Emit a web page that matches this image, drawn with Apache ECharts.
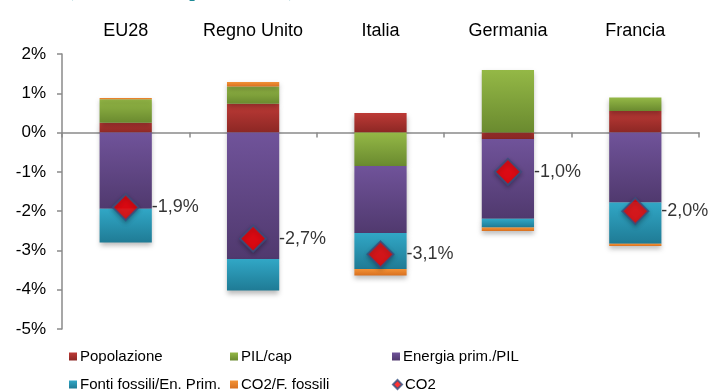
<!DOCTYPE html>
<html>
<head>
<meta charset="utf-8">
<script src="https://cdn.jsdelivr.net/npm/echarts@6/dist/echarts.min.js"></script>
<style>
  html, body { margin: 0; padding: 0; background: #ffffff; }
  #chart { width: 713px; height: 392px; }
</style>
</head>
<body>
<div id="chart"></div>
<script>
// Decomposition of CO2 change by driver (percentage points)
const categories = ['EU28', 'Regno Unito', 'Italia', 'Germania', 'Francia'];
const popolazione = [0.25, 0.735, 0.5, -0.165, 0.55];
const pilCap = [0.6, 0.435, -0.85, 1.59, 0.34];
const energiaPil = [-1.94, -3.22, -1.705, -2.03, -1.78];
const fontiFossili = [-0.86, -0.80, -0.915, -0.22, -1.05];
const co2Fossili = [0.03, 0.12, -0.17, -0.09, -0.06];
const co2 = [-1.9, -2.7, -3.1, -1.0, -2.0];
const yTicks = [-5, -4, -3, -2, -1, 0, 1, 2];

const chart = echarts.init(document.getElementById('chart'), null, { renderer: 'canvas' });

function grad(top, bottom) {
  return new echarts.graphic.LinearGradient(0, 0, 0, 1, [
    { offset: 0, color: top },
    { offset: 1, color: bottom }
  ]);
}

function barSeries(name, data, top, bottom) {
  return {
    name: name,
    type: 'bar',
    stack: 'tot',
    barWidth: '41%',
    data: data,
    itemStyle: {
      color: grad(top, bottom),
      shadowColor: 'rgba(0,0,0,0.28)',
      shadowBlur: 5,
      shadowOffsetY: 3
    }
  };
}

const fmt = v => (v.toFixed(1)).replace('.', ',') + '%';

// one legend entry per slot: 3 columns x 2 rows
function legendItem(name, left, top, icon) {
  return {
    left: left, top: top, padding: 0,
    itemWidth: icon === 'diamond' ? 9 : 8,
    itemHeight: icon === 'diamond' ? 9 : 8,
    icon: icon,
    textStyle: { fontSize: 15, color: '#000', padding: [0, 0, 0, -2] },
    data: [name]
  };
}

const option = {
  animation: false,
  backgroundColor: '#ffffff',
  textStyle: { fontFamily: 'Liberation Sans, Arial, sans-serif' },
  graphic: [{
    type: 'text',
    x: 67,
    y: 1,
    style: {
      text: '(media annua percentuale)',
      fontSize: 20,
      fontWeight: 'bold',
      fontFamily: 'Liberation Serif',
      fill: '#1d8a96',
      verticalAlign: 'bottom'
    }
  }],
  grid: { left: 62, right: 14, top: 54, bottom: 63, containLabel: false },
  legend: [
    legendItem('Popolazione', 69, 349, 'rect'),
    legendItem('PIL/cap', 230, 349, 'rect'),
    legendItem('Energia prim./PIL', 392, 349, 'rect'),
    legendItem('Fonti fossili/En. Prim.', 69, 377, 'rect'),
    legendItem('CO2/F. fossili', 230, 377, 'rect'),
    legendItem('CO2', 392, 377, 'diamond')
  ],
  xAxis: [
    {
      type: 'category',
      data: categories,
      position: 'bottom',
      axisLine: { onZero: true, lineStyle: { color: '#8a8a8a', width: 1.5 } },
      axisTick: { show: true, length: 5, lineStyle: { color: '#8a8a8a', width: 1.5 } },
      axisLabel: { show: false }
    },
    {
      type: 'category',
      data: categories,
      position: 'top',
      axisLine: { show: false },
      axisTick: { show: false },
      axisLabel: { show: true, interval: 0, fontSize: 18, color: '#000', margin: 14 }
    }
  ],
  yAxis: {
    type: 'value',
    min: -5, max: 2, interval: 1,
    axisLine: { show: true, lineStyle: { color: '#8a8a8a', width: 1.5 } },
    axisTick: { show: true, length: 5, lineStyle: { color: '#8a8a8a', width: 1.5 } },
    splitLine: { show: false },
    axisLabel: {
      fontSize: 17, color: '#000', margin: 16,
      formatter: v => (yTicks.includes(v) ? v + '%' : '')
    }
  },
  series: [
    barSeries('Popolazione', popolazione, '#bd3a36', '#8c2724'),
    barSeries('PIL/cap', pilCap, '#94b846', '#6a8a2f'),
    barSeries('Energia prim./PIL', energiaPil, '#70539a', '#50396e'),
    barSeries('Fonti fossili/En. Prim.', fontiFossili, '#31a7c6', '#1f7b95'),
    barSeries('CO2/F. fossili', co2Fossili, '#f39236', '#d87020'),
    {
      name: 'CO2',
      type: 'scatter',
      xAxisIndex: 0,
      symbol: 'diamond',
      symbolSize: 26,
      data: co2,
      z: 5,
      itemStyle: {
        color: '#ff0000',
        borderColor: '#35507f',
        borderWidth: 2,
        shadowColor: 'rgba(0,0,0,0.3)',
        shadowBlur: 4,
        shadowOffsetY: 2
      },
      label: {
        show: true,
        position: 'right',
        distance: 12,
        fontSize: 18,
        color: '#000',
        formatter: p => fmt(p.value)
      }
    }
  ]
};

chart.setOption(option);
</script>
</body>
</html>
